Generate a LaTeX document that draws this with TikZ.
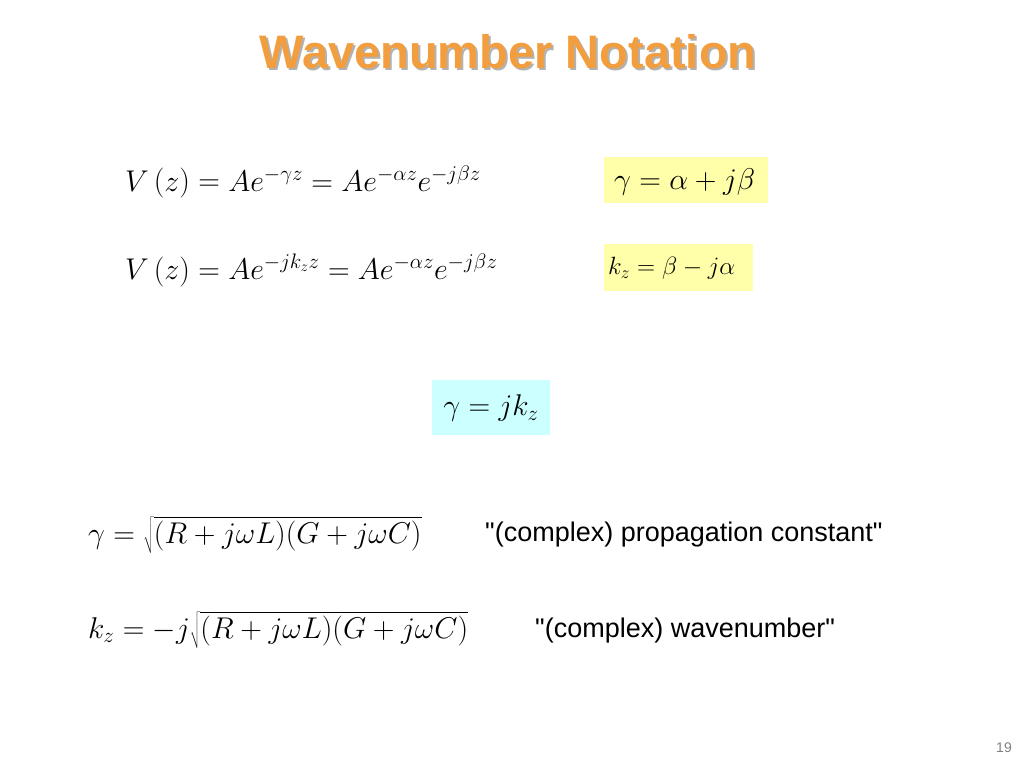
\documentclass[tikz,border=0pt]{standalone}
\usepackage{fix-cm}
\usepackage{fontspec}
\setmainfont{Liberation Sans}
\newfontfamily\plainsans{Liberation Sans}
\definecolor{ttl}{RGB}{242,158,62}
\definecolor{ybox}{RGB}{255,255,170}
\definecolor{cbox}{RGB}{204,255,255}
\begin{document}
\begin{tikzpicture}[x=1pt,y=-1pt,
  eq/.style={anchor=west,inner sep=0pt,font=\fontsize{30}{36}\selectfont},
  lbl/.style={anchor=west,inner sep=0pt,font=\plainsans\fontsize{27}{32}\selectfont},
  hl/.style={inner sep=0pt}]
\useasboundingbox (0,0) rectangle (1024,768);
\node[text=gray!60,font=\bfseries\fontsize{47}{54}\selectfont] at (510,54) {Wavenumber Notation};
\node (title) [text=ttl,font=\bfseries\fontsize{47}{54}\selectfont] at (508,52) {Wavenumber Notation};
\node (e1) [eq] at (125,182) {$V\left(z\right)=Ae^{-\gamma z}=Ae^{-\alpha z}e^{-j\beta z}$};
\fill[ybox] (604,157) rectangle (768,203);
\node (g1) [eq] at (614,182) {$\gamma=\alpha+j\beta$};
\node (e2) [eq] at (125,270) {$V\left(z\right)=Ae^{-jk_z z}=Ae^{-\alpha z}e^{-j\beta z}$};
\fill[ybox] (604,244) rectangle (753,291);
\node (k1) [eq,font=\fontsize{25}{30}\selectfont] at (608,268) {$k_z=\beta-j\alpha$};
\fill[cbox] (432,380) rectangle (550,435);
\node (g2) [hl,font=\fontsize{30}{36}\selectfont] at (491,408) {$\gamma=jk_z$};
\node (e5) [eq] at (88,535) {$\gamma=\sqrt{(R+j\omega L)(G+j\omega C)}$};
\node (l5) [lbl] at (485,535) {"(complex) propagation constant"};
\node (e6) [eq] at (88,630) {$k_z=-j\sqrt{(R+j\omega L)(G+j\omega C)}$};
\node (l6) [lbl] at (535,631) {"(complex) wavenumber"};
\node (pg) [text=gray,font=\fontsize{14}{16}\selectfont] at (1004,748) {19};
\end{tikzpicture}
\end{document}
